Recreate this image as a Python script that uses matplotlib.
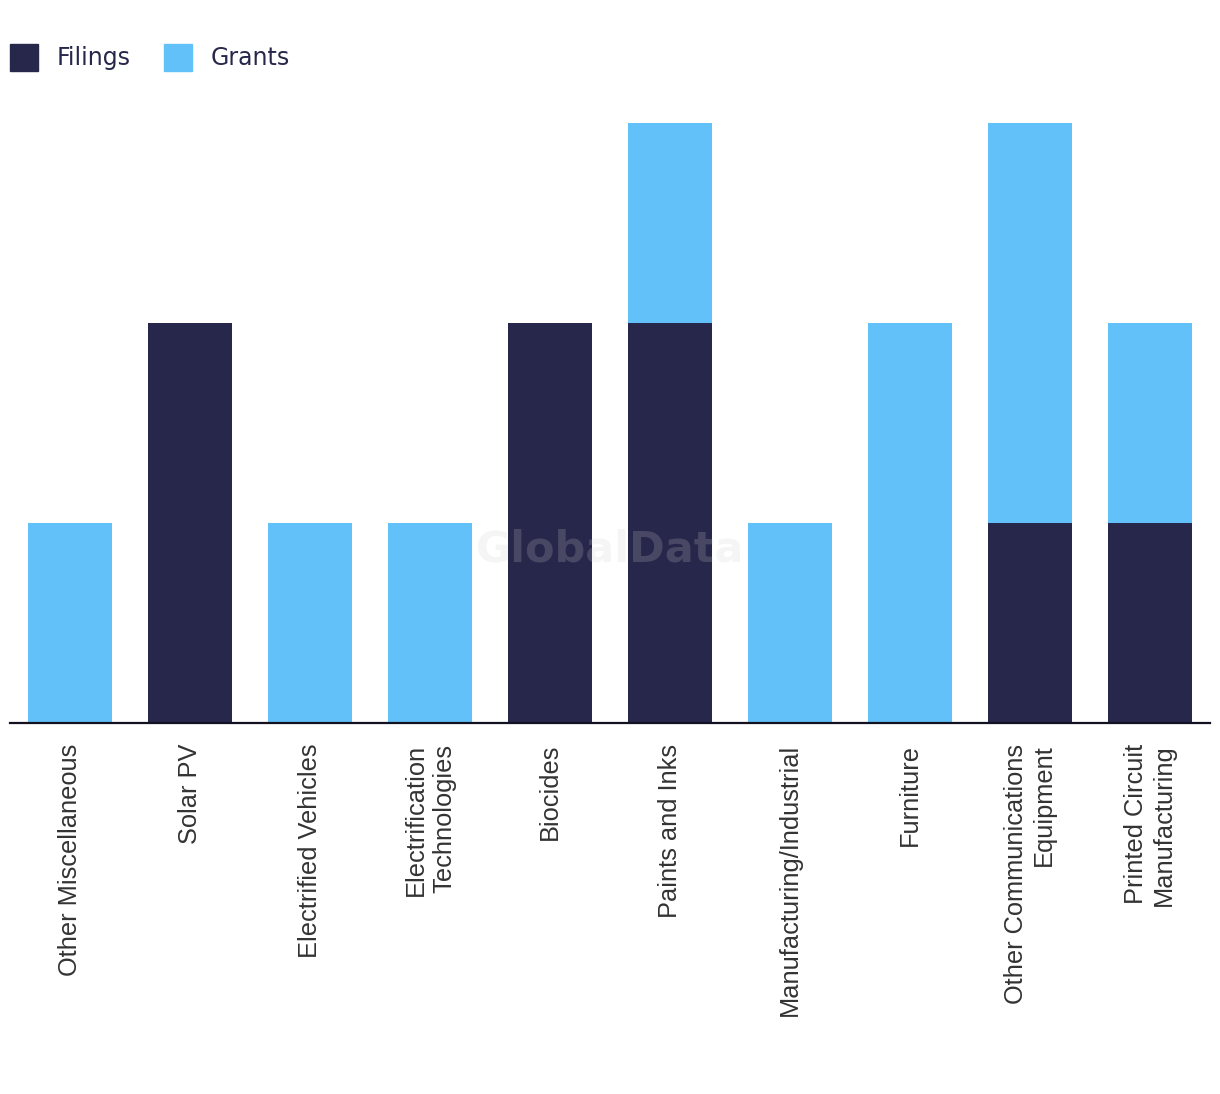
import matplotlib.pyplot as plt
from matplotlib.patches import Patch

categories = ["Other Miscellaneous", "Solar PV", "Electrified Vehicles",
              "Electrification\nTechnologies", "Biocides", "Paints and Inks",
              "Manufacturing/Industrial", "Furniture",
              "Other Communications\nEquipment", "Printed Circuit\nManufacturing"]
filings = [0, 2, 0, 0, 2, 2, 0, 0, 1, 1]
grants = [1, 0, 1, 1, 0, 1, 1, 2, 2, 1]

navy = "#27274b"
blue = "#62c1f9"

fig = plt.figure(figsize=(12.2, 10.94), dpi=100)
ax = fig.add_axes([10 / 1220, 371 / 1094, 1200 / 1220, 600 / 1094])

x = range(len(categories))
ax.bar(x, filings, width=0.7, color=navy, label="Filings")
ax.bar(x, grants, width=0.7, bottom=filings, color=blue, label="Grants")

ax.set_xlim(-0.5, len(categories) - 0.5)
ax.set_ylim(0, 3)
ax.set_xticks(list(x))
ax.set_xticklabels(categories, rotation=90, ha="center", va="top",
                   multialignment="right", fontsize=18.3, color="#333333",
                   family="Liberation Sans", linespacing=1.25)
ax.tick_params(axis="x", length=0, pad=15)
ax.set_yticks([])
for s in ["top", "left", "right"]:
    ax.spines[s].set_visible(False)
ax.spines["bottom"].set_color("#111122")
ax.spines["bottom"].set_linewidth(1.6)

# watermark
ax.text(0.5, 0.29, "GlobalData", transform=ax.transAxes, ha="center",
        va="center", fontsize=31, fontweight="bold", color="#cfcfcf",
        alpha=0.2, zorder=5)

handles = [Patch(color=navy, label="Filings"), Patch(color=blue, label="Grants")]
fig.legend(handles=handles, loc="upper left", bbox_to_anchor=(0.002, 0.966),
           ncol=2, frameon=False, fontsize=17, handlelength=1.2,
           handleheight=1.35, handletextpad=0.8, columnspacing=1.4,
           borderaxespad=0, borderpad=0.3, labelcolor=navy)

fig.savefig("out.png", dpi=100)
